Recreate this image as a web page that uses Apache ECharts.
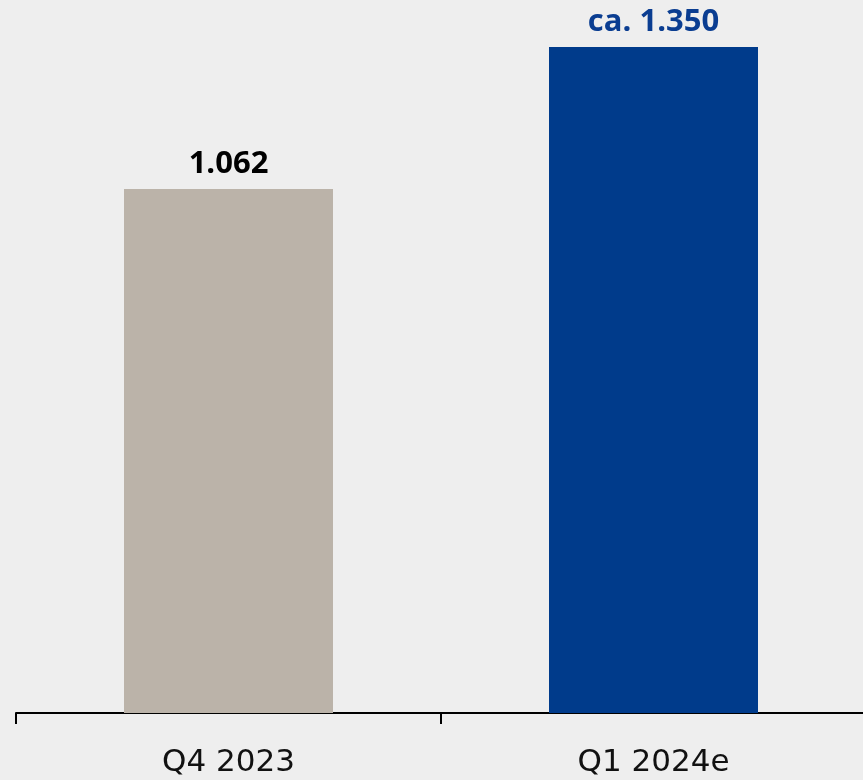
<!DOCTYPE html>
<html>
<head>
<meta charset="utf-8">
<script src="https://cdn.jsdelivr.net/npm/echarts@6/dist/echarts.min.js"></script>
<style>
html,body{margin:0;padding:0;background:#eeeeee;overflow:hidden;}
#wrap{width:863px;height:780px;overflow:hidden;}
#chart{width:875px;height:780px;}
</style>
</head>
<body>
<div id="wrap"><div id="chart"></div></div>
<script>
const categories = ['Q4 2023', 'Q1 2024e'];
const values = [1062, 1350];
const valueLabels = ['1.062', 'ca. 1.350'];
const barColors = ['#bbb3a9', '#003b8b'];
const labelColors = ['#000000', '#0a3d91'];

const chart = echarts.init(document.getElementById('chart'));
chart.setOption({
  backgroundColor: '#eeeeee',
  animation: false,
  grid: { left: 16, width: 850, top: 0, height: 713, containLabel: false },
  xAxis: {
    type: 'category',
    data: categories,
    axisLine: { show: true, lineStyle: { color: '#000000', width: 2 } },
    axisTick: { show: true, length: 11, lineStyle: { color: '#000000', width: 2 } },
    axisLabel: { color: '#111111', fontFamily: 'DejaVu Sans', fontSize: 31, margin: 34 }
  },
  yAxis: { type: 'value', min: 0, max: 1445, show: false, splitLine: { show: false } },
  series: [{
    type: 'bar',
    barWidth: 209,
    data: values.map((v, i) => ({
      value: v,
      itemStyle: { color: barColors[i] },
      label: {
        show: true,
        position: 'top',
        distance: 9,
        formatter: valueLabels[i],
        color: labelColors[i],
        fontFamily: 'Open Sans',
        fontWeight: 'bold',
        fontSize: 31
      }
    }))
  }]
});
</script>
</body>
</html>
